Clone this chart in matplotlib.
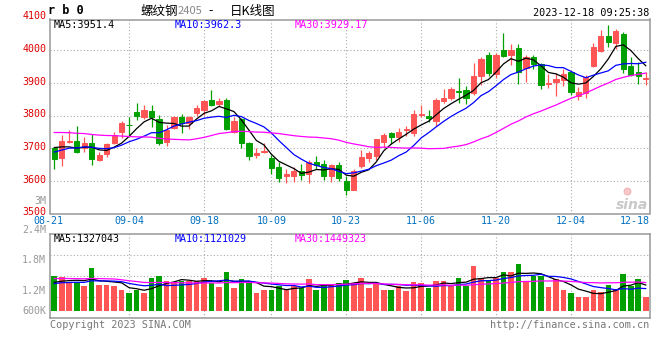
import numpy as np
import pandas as pd
import matplotlib
matplotlib.use('Agg')
import matplotlib.pyplot as plt

# trading days shown (exchange closed 09-29 .. 10-06)
dates = [d for d in pd.bdate_range('2023-08-21', '2023-12-18')
         if not (pd.Timestamp('2023-09-29') <= d <= pd.Timestamp('2023-10-06'))]
date_ticks = ['08-21', '09-04', '09-18', '10-09', '10-23', '11-06', '11-20', '12-04', '12-18']

opens = [3700, 3669, 3720, 3722, 3700, 3716, 3665, 3682, 3716, 3751,
         3772, 3812, 3796, 3814, 3790, 3720, 3761, 3794, 3778, 3808,
         3818, 3849, 3835, 3849, 3751, 3788, 3716, 3678, 3688, 3671,
         3641, 3616, 3616, 3631, 3622, 3659, 3653, 3614, 3649, 3600,
         3573, 3645, 3671, 3676, 3718, 3747, 3735, 3755, 3745, 3802,
         3800, 3782, 3845, 3853, 3874, 3878, 3869, 3922, 3984, 3927,
         4002, 3984, 4006, 3945, 3980, 3959, 3896, 3904, 3910, 3933,
         3861, 3869, 3951, 3998, 4045, 4022, 4051, 3953, 3933, 3913]
highs = [3702, 3739, 3757, 3769, 3735, 3743, 3688, 3716, 3749, 3782,
         3796, 3839, 3831, 3833, 3802, 3771, 3800, 3806, 3798, 3833,
         3849, 3878, 3855, 3853, 3796, 3792, 3720, 3700, 3716, 3678,
         3657, 3635, 3641, 3653, 3665, 3676, 3663, 3653, 3659, 3614,
         3637, 3694, 3690, 3729, 3747, 3751, 3763, 3769, 3816, 3831,
         3818, 3853, 3880, 3886, 3914, 3890, 3961, 3980, 3996, 3990,
         4053, 4018, 4018, 3984, 3986, 3961, 3927, 3931, 3941, 3937,
         3886, 3924, 4022, 4061, 4078, 4064, 4055, 3980, 3965, 3933]
lows = [3637, 3645, 3716, 3686, 3688, 3647, 3660, 3673, 3712, 3732,
        3741, 3786, 3790, 3765, 3710, 3706, 3759, 3747, 3759, 3798,
        3802, 3829, 3829, 3755, 3747, 3702, 3663, 3671, 3684, 3620,
        3596, 3592, 3596, 3602, 3592, 3635, 3604, 3596, 3598, 3557,
        3571, 3639, 3657, 3665, 3704, 3712, 3720, 3737, 3737, 3794,
        3780, 3767, 3839, 3849, 3839, 3835, 3863, 3892, 3920, 3914,
        3980, 3955, 3896, 3904, 3943, 3882, 3884, 3859, 3890, 3863,
        3849, 3855, 3949, 3996, 4009, 4004, 3931, 3920, 3896, 3894]
closes = [3667, 3722, 3723, 3688, 3716, 3667, 3680, 3714, 3739, 3778,
          3770, 3798, 3818, 3794, 3716, 3757, 3794, 3776, 3796, 3824,
          3843, 3833, 3843, 3759, 3782, 3716, 3676, 3684, 3692, 3639,
          3608, 3620, 3629, 3618, 3659, 3647, 3614, 3647, 3608, 3571,
          3631, 3673, 3686, 3727, 3741, 3735, 3751, 3758, 3806, 3805,
          3792, 3849, 3855, 3880, 3872, 3855, 3922, 3973, 3929, 3984,
          3982, 4002, 3933, 3978, 3957, 3892, 3899, 3912, 3927, 3871,
          3871, 3918, 4010, 4045, 4024, 4060, 3943, 3924, 3920, 3916]
# volume, millions of lots
vol_m = [1.77, 1.70, 1.45, 1.43, 1.25, 2.15, 1.30, 1.30, 1.25, 1.05,
         0.92, 1.05, 0.92, 1.65, 1.77, 1.50, 1.43, 1.50, 1.50, 1.50,
         1.65, 1.42, 1.22, 1.95, 1.17, 1.62, 1.45, 0.92, 1.05, 1.05,
         1.25, 1.05, 1.25, 1.17, 1.62, 1.05, 1.35, 1.30, 1.40, 1.55,
         1.40, 1.65, 1.15, 1.40, 1.05, 1.05, 1.25, 1.00, 1.45, 1.40,
         1.15, 1.50, 1.50, 1.30, 1.65, 1.25, 2.25, 1.65, 1.55, 1.65,
         1.95, 1.95, 2.35, 1.50, 1.75, 1.77, 1.20, 1.60, 1.05, 0.92,
         0.70, 0.70, 1.05, 0.95, 1.30, 1.10, 1.85, 1.25, 1.60, 0.70]
# days before the window, estimated from where the MA lines start
pre_close = [3725, 3735, 3745, 3740, 3750, 3742, 3748, 3755, 3815, 3810,
             3830, 3825, 3820, 3812, 3830, 3818, 3808, 3815, 3725, 3712,
             3660, 3665, 3680, 3685, 3680, 3712, 3723, 3708, 3700]
pre_vol_m = [1.50, 1.60, 1.55, 1.48, 1.62, 1.55, 1.58, 1.52, 2.25, 2.40,
             2.20, 2.35, 1.70, 1.62, 1.68, 1.60, 1.72, 1.65, 1.66, 1.67,
             1.25, 1.35, 1.30, 1.32, 1.33, 1.40, 1.30, 1.35, 1.33]

price_ma_text = ['MA5:3951.4', 'MA10:3962.3', 'MA30:3929.17']
vol_ma_text = ['MA5:1327043', 'MA10:1121029', 'MA30:1449323']
price_labels = [3500, 3600, 3700, 3800, 3900, 4000, 4100]
vol_labels = ['2.4M', '1.8M', '1.2M', '600K']

RED, GREEN = '#ff5555', '#00a000'
MA_COLORS = ['black', '#0000ff', '#ff00ff']
GRID = dict(color='#aaaaaa', lw=0.8, ls=(0, (1, 2)))
MONO = 'DejaVu Sans Mono'

n = len(closes)
x = np.arange(n)
o, h, l, c = map(np.array, (opens, highs, lows, closes))
colors = np.where(c >= o, RED, GREEN)

all_close = pd.Series(pre_close + closes)
all_vol = pd.Series(pre_vol_m + vol_m)
price_ma = [all_close.rolling(k).mean().values[-n:] for k in (5, 10, 30)]
vol_ma = [all_vol.rolling(k).mean().values[-n:] for k in (5, 10, 30)]

W, H = 660, 360
fig = plt.figure(figsize=(6.6, 3.6), dpi=100)


def box(left, top, right, bottom):
    return [left / W, 1 - bottom / H, (right - left) / W, (bottom - top) / H]


def ftext(px, py, s, **kw):
    kw.setdefault('family', MONO)
    kw.setdefault('va', 'center')
    fig.text(px / W, 1 - py / H, s, **kw)


ax = fig.add_axes(box(50.5, 19.5, 649.5, 213.5))
axv = fig.add_axes(box(50.5, 234.3, 649.5, 318.3))

tick_idx = [i for i, d in enumerate(dates) if d.strftime('%m-%d') in date_ticks]

for a in (ax, axv):
    a.set_xlim(-0.5, n - 0.5)
    a.set_xticks([])
    a.set_yticks([])
    for s in a.spines.values():
        s.set_color('#999999')
        s.set_linewidth(1.1)
    for i in tick_idx[1:-1]:
        a.axvline(i, zorder=0, **GRID)

# price panel
ax.set_ylim(3500, 4094)
for v in price_labels[1:-1]:
    ax.axhline(v, zorder=0, **GRID)
ax.vlines(x, l, h, colors=colors, lw=0.9, zorder=2)
ax.bar(x, np.abs(c - o), bottom=np.minimum(o, c), width=0.7, color=colors,
       edgecolor=colors, linewidth=0.7, zorder=3)
for ma, col in zip(price_ma, MA_COLORS):
    ax.plot(x, ma, color=col, lw=0.9, zorder=4)

ytr = ax.get_yaxis_transform()
for v in price_labels:
    ax.text(-0.007, v + 4, str(v), transform=ytr, ha='right', va='center',
            color='#dd0000', family=MONO, fontsize=7.2, clip_on=False)
ax.text(-0.007, 0.064, '3M', transform=ax.transAxes, ha='right', va='center',
        color='#999999', family=MONO, fontsize=7.2)

for s, col, px in zip(price_ma_text, MA_COLORS, (54, 175, 295)):
    ftext(px, 24.5, s, color=col, fontsize=7.3)

# sina watermark
ax.plot([0.962], [0.115], transform=ax.transAxes, marker='o', ms=5,
        mfc='#f6c8c8', mec='#eeaaaa', mew=0.6)
ax.text(0.998, 0.045, 'sina', transform=ax.transAxes, ha='right', va='center',
        color='#c8c8c8', fontsize=10, style='italic', weight='bold')

# date labels
for i in tick_idx:
    lab = dates[i].strftime('%m-%d')
    if i == 0:
        ftext(48.5, 221.5, lab, ha='center', color='#0070c0', fontsize=7.2)
    elif i == n - 1:
        ftext(649.5, 221.5, lab, ha='right', color='#0070c0', fontsize=7.2)
    else:
        ax.text(i, -0.04, lab, transform=ax.get_xaxis_transform(), ha='center',
                va='center', color='#0070c0', family=MONO, fontsize=7.2)

# volume panel
lo, hi = -0.365, 3.835
axv.set_ylim(lo, hi)
for f in (0.25, 0.5, 0.75):
    axv.axhline(lo + (hi - lo) * f, zorder=0, **GRID)
axv.bar(x, vol_m, width=0.75, color=colors, zorder=2)
for ma, col in zip(vol_ma, MA_COLORS):
    axv.plot(x, ma, color=col, lw=0.9, zorder=3)
for s, col, px in zip(vol_ma_text, MA_COLORS, (54, 175, 295)):
    ftext(px, 238.5, s, color=col, fontsize=7.2)
for s, py in zip(vol_labels, (229.7, 260.3, 290.7, 311)):
    ftext(46, py, s, ha='right', color='#999999', fontsize=7.2)

# header and footer
ftext(48, 10.5, 'r b 0', color='black', fontsize=8.6, weight='bold')
cjk = ['Noto Sans CJK SC', 'DejaVu Sans']
ftext(140, 11, '螺纹钢', family=cjk, fontsize=9, color='black')
ftext(178, 11, '2405', family=cjk, fontsize=8, color='#888888')
ftext(208, 11, '-', family=cjk, fontsize=9, color='black')
ftext(230, 11, '日K线图', family=cjk, fontsize=9, color='black')
ftext(649, 12.5, '2023-12-18 09:25:38', ha='right', color='black', fontsize=7.3)
ftext(50, 324.5, 'Copyright 2023 SINA.COM', color='#777777', fontsize=7.3)
ftext(649, 324.5, 'http://finance.sina.com.cn', ha='right', color='#777777', fontsize=7.3)

fig.savefig('out.png', dpi=100)
